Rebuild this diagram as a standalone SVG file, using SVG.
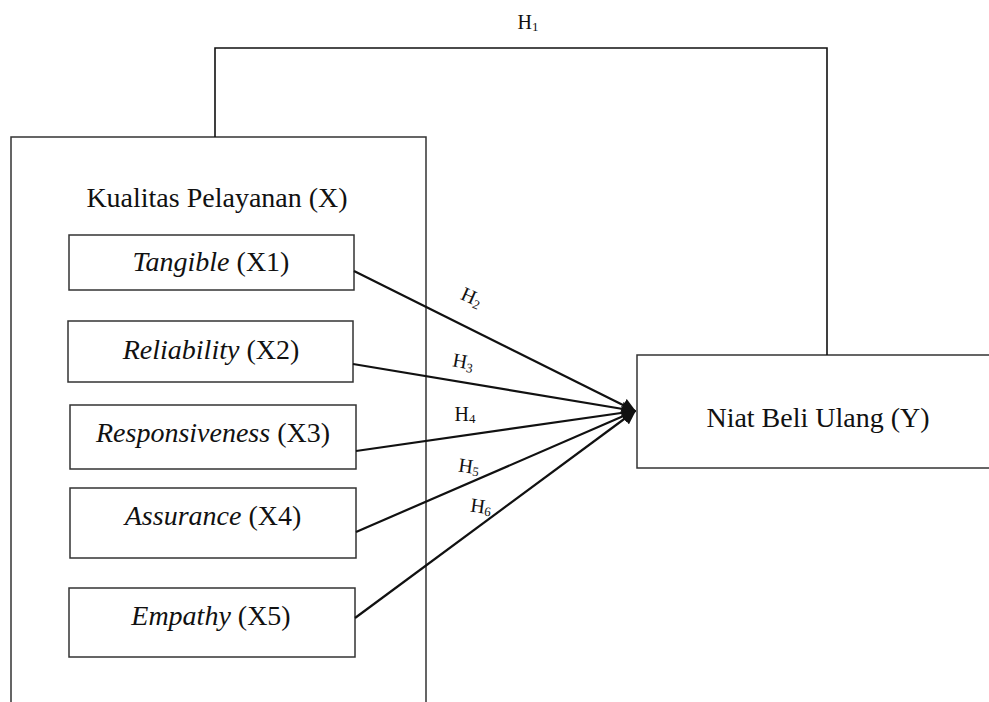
<svg xmlns="http://www.w3.org/2000/svg" width="989" height="702" viewBox="0 0 989 702">
<style>
.box{fill:#fff;stroke:#333;stroke-width:1.5}
.t{font-family:"Liberation Serif","Times New Roman",serif;fill:#111;text-anchor:middle}
.n{font-size:28px}
.lab{font-size:20px}
.sub{font-size:13px}
.con{fill:none;stroke:#111;stroke-width:2.2}
.i{font-style:italic}
</style>
<defs>
<marker id="arr" viewBox="0 0 10 10" refX="9" refY="5" markerWidth="6.5" markerHeight="6.5" orient="auto" markerUnits="strokeWidth">
<path d="M0,0 L10,5 L0,10 z" fill="#111"/>
</marker>
</defs>
<rect width="989" height="702" fill="#fff"/>
<g id="X">
<path class="box" d="M11,710 V137 H426 V710" fill="none"/>
<text class="t n" x="217" y="207">Kualitas Pelayanan (X)</text>
</g>
<g id="X1"><rect class="box" x="69" y="235" width="285" height="55"/><text class="t n" x="211" y="271"><tspan class="i">Tangible</tspan> (X1)</text></g>
<g id="X2"><rect class="box" x="68" y="321" width="285" height="61"/><text class="t n" x="211" y="359"><tspan class="i">Reliability</tspan> (X2)</text></g>
<g id="X3"><rect class="box" x="70" y="405" width="286" height="64"/><text class="t n" x="213" y="442"><tspan class="i">Responsiveness</tspan> (X3)</text></g>
<g id="X4"><rect class="box" x="70" y="488" width="286" height="70"/><text class="t n" x="213" y="525"><tspan class="i">Assurance</tspan> (X4)</text></g>
<g id="X5"><rect class="box" x="69" y="588" width="286" height="69"/><text class="t n" x="211" y="625"><tspan class="i">Empathy</tspan> (X5)</text></g>
<g id="Y"><rect class="box" x="637" y="355" width="360" height="113"/><text class="t n" x="818" y="427">Niat Beli Ulang (Y)</text></g>
<g id="connectors">
<path class="con" style="stroke-width:1.6" d="M215,137 V48 H827 V355"/>
<text class="t lab" x="528" y="29">H<tspan class="sub" dy="2">1</tspan></text>
<line class="con" x1="354" y1="271" x2="635" y2="411" marker-end="url(#arr)"/>
<line class="con" x1="353" y1="364" x2="635" y2="411" marker-end="url(#arr)"/>
<line class="con" x1="356" y1="451" x2="635" y2="411" marker-end="url(#arr)"/>
<line class="con" x1="356" y1="532" x2="635" y2="411" marker-end="url(#arr)"/>
<line class="con" x1="355" y1="618" x2="635" y2="411" marker-end="url(#arr)"/>
<text class="t lab" transform="translate(469,303) rotate(24)">H<tspan class="sub" dy="3">2</tspan></text>
<text class="t lab" transform="translate(462,368) rotate(10)">H<tspan class="sub" dy="3">3</tspan></text>
<text class="t lab" transform="translate(465,421)">H<tspan class="sub" dy="2">4</tspan></text>
<text class="t lab" transform="translate(468,473) rotate(8)">H<tspan class="sub" dy="2">5</tspan></text>
<text class="t lab" transform="translate(480,513) rotate(8)">H<tspan class="sub" dy="2">6</tspan></text>
</g>
</svg>
